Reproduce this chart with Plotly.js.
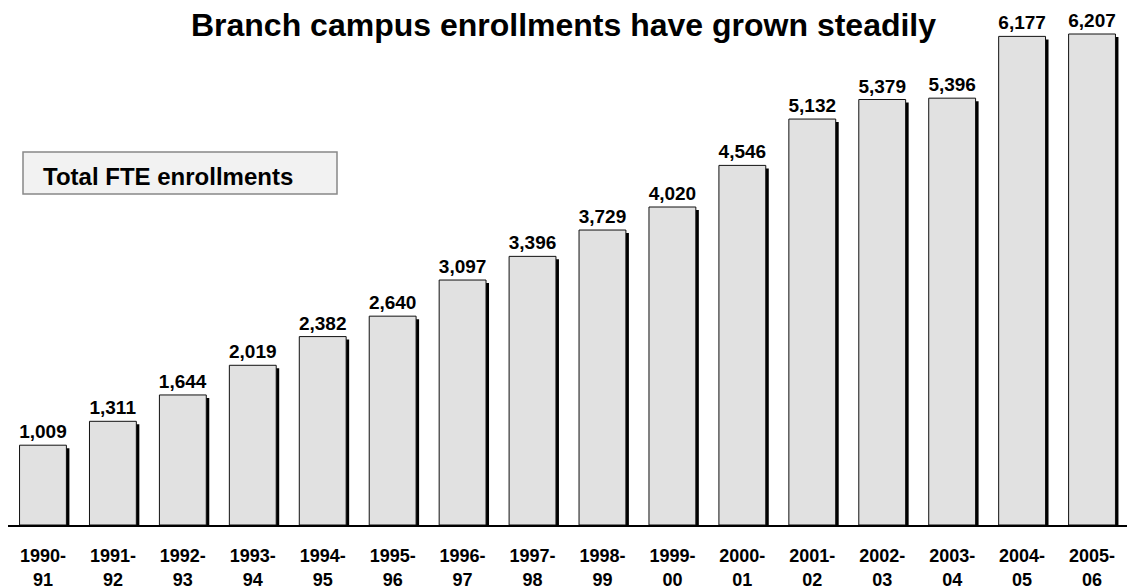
<!DOCTYPE html>
<html>
<head>
<meta charset="utf-8">
<script src="https://cdn.plot.ly/plotly-3.0.1.min.js"></script>
<style>html,body{margin:0;padding:0;background:#fff;}#chart{width:1127px;height:588px;}</style>
</head>
<body>
<div id="chart"></div>
<script>
// Data
const years = ["1990-91","1991-92","1992-93","1993-94","1994-95","1995-96","1996-97","1997-98","1998-99","1999-00","2000-01","2001-02","2002-03","2003-04","2004-05","2005-06"];
const tickLabels = ["1990-<br>91","1991-<br>92","1992-<br>93","1993-<br>94","1994-<br>95","1995-<br>96","1996-<br>97","1997-<br>98","1998-<br>99","1999-<br>00","2000-<br>01","2001-<br>02","2002-<br>03","2003-<br>04","2004-<br>05","2005-<br>06"];
const enrollments = [1009,1311,1644,2019,2382,2640,3097,3396,3729,4020,4546,5132,5379,5396,6177,6207];
const titleText = "Branch campus enrollments have grown steadily";
const boxText = "Total FTE enrollments";

const FONT = "Liberation Sans, Arial, Helvetica, sans-serif";
const idx = years.map((_, i) => i);
const yMax = 6637;
const plotH = 525;
const unitsPerPx = yMax / plotH;
const shadowDrop = 3 * unitsPerPx;   // shadow shifted 3px down
const barW = 0.67;
const shadowShift = 3 / 69.94;       // 3px to the right

const shadow = {
  type: 'bar', x: idx, y: enrollments.map(v => v - shadowDrop),
  width: barW, offset: -barW/2 + shadowShift,
  marker: {color: '#000000', line: {width: 0}},
  hoverinfo: 'skip', showlegend: false
};
const bars = {
  type: 'bar', x: idx, y: enrollments,
  width: barW, offset: -barW/2,
  marker: {color: '#e1e1e1', line: {color: '#111111', width: 1}},
  text: enrollments.map(v => v.toLocaleString('en-US')),
  textposition: 'outside', cliponaxis: false, constraintext: 'none',
  textfont: {family: FONT, size: 19, color: '#000', weight: 'bold'},
  showlegend: false
};

const layout = {
  width: 1127, height: 588,
  margin: {l: 8, r: 0, t: 0, b: 63},
  paper_bgcolor: '#ffffff', plot_bgcolor: '#ffffff',
  barmode: 'overlay',
  showlegend: false,
  title: {
    text: titleText, xref: 'container', x: 0.5, xanchor: 'center',
    yref: 'container', y: 1 - 25/588, yanchor: 'middle',
    font: {family: FONT, size: 32, color: '#000', weight: 'bold'}
  },
  xaxis: {
    range: [-0.5, 15.5], tickmode: 'array', tickvals: idx, ticktext: tickLabels,
    showline: true, linecolor: '#000', linewidth: 1.5, showgrid: false, zeroline: false,
    ticks: 'outside', ticklen: 14, tickcolor: 'rgba(0,0,0,0)',
    tickfont: {family: FONT, size: 18, color: '#000', weight: 'bold'}
  },
  yaxis: {range: [0, yMax], visible: false, showgrid: false, zeroline: false},
  shapes: [{
    type: 'rect', xref: 'paper', yref: 'paper',
    x0: (23-8)/1119, x1: (337-8)/1119, y0: 1 - 194/525, y1: 1 - 152/525,
    fillcolor: '#f2f2f2', line: {color: '#888888', width: 1.5}, layer: 'above'
  }],
  annotations: [{
    text: boxText, xref: 'paper', yref: 'paper',
    x: (41-8)/1119, xanchor: 'left', y: 1 - 176/525, yanchor: 'middle',
    showarrow: false,
    font: {family: FONT, size: 24, color: '#000', weight: 'bold'}
  }]
};

Plotly.newPlot('chart', [shadow, bars], layout, {displayModeBar: false, staticPlot: true});
</script>
</body>
</html>
